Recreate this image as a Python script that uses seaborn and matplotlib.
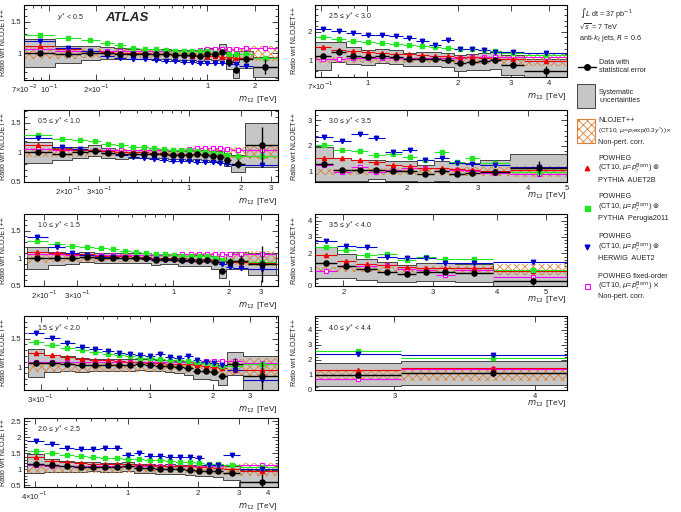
import numpy as np
import matplotlib
matplotlib.use("Agg")
from matplotlib import pyplot as plt
from matplotlib.ticker import AutoMinorLocator, LogLocator, NullFormatter
from matplotlib.patches import Rectangle
import seaborn as sns

# ---- values (ratio wrt NLOJET++), m12 bin edges in TeV ----
ystar_bins = ["$y^{*}$ < 0.5", "0.5 ≤ $y^{*}$ < 1.0", "1.0 ≤ $y^{*}$ < 1.5",
              "1.5 ≤ $y^{*}$ < 2.0", "2.0 ≤ $y^{*}$ < 2.5", "2.5 ≤ $y^{*}$ < 3.0",
              "3.0 ≤ $y^{*}$ < 3.5", "3.5 ≤ $y^{*}$ < 4.0", "4.0 ≤ $y^{*}$ < 4.4"]

# y* < 0.5
edges1 = [0.07, 0.11, 0.16, 0.21, 0.26, 0.31, 0.37, 0.44, 0.51, 0.59, 0.67, 0.76, 0.85, 0.95, 1.06, 1.18, 1.31, 1.45, 1.60, 1.94, 2.78]
data1 = [1.0, 0.98, 1.0, 1.0, 0.99, 0.98, 0.98, 0.98, 0.98, 0.97, 0.97, 0.97, 0.96, 0.99, 0.99, 1.02, 0.86, 0.73, 0.90, 0.78]
stat1 = [0.01, 0.01, 0.01, 0.01, 0.01, 0.01, 0.01, 0.01, 0.01, 0.01, 0.01, 0.01, 0.01, 0.02, 0.02, 0.03, 0.04, 0.05, 0.06, 0.12]
syst1 = [0.22, 0.14, 0.11, 0.10, 0.09, 0.08, 0.08, 0.08, 0.08, 0.08, 0.08, 0.08, 0.09, 0.09, 0.10, 0.12, 0.12, 0.13, 0.14, 0.16]
nlo1 = [0.10, 0.09, 0.08, 0.07, 0.07, 0.07, 0.07, 0.07, 0.07, 0.07, 0.07, 0.07, 0.07, 0.07, 0.08, 0.08, 0.09, 0.10, 0.10, 0.12]
red1 = [1.12, 1.07, 1.04, 1.02, 1.01, 1.00, 1.00, 0.99, 0.98, 0.97, 0.97, 0.96, 0.95, 0.95, 0.95, 0.94, 0.94, 0.93, 0.92, 0.92]
green1 = [1.29, 1.25, 1.21, 1.17, 1.13, 1.09, 1.07, 1.06, 1.05, 1.04, 1.04, 1.03, 1.03, 1.03, 1.00, 1.02, 0.98, 0.98, 0.99, 0.93]
blue1 = [1.20, 1.08, 1.03, 0.95, 0.93, 0.91, 0.90, 0.89, 0.88, 0.87, 0.86, 0.86, 0.85, 0.85, 0.85, 0.84, 0.83, 0.82, 0.80, 0.78]
mag1 = [1.06, 1.04, 1.03, 1.03, 1.03, 1.03, 1.03, 1.03, 1.03, 1.03, 1.04, 1.04, 1.05, 1.06, 1.06, 1.06, 1.07, 1.07, 1.08, 1.08]

# 0.5 <= y* < 1.0
edges2 = [0.11, 0.16, 0.21, 0.26, 0.31, 0.37, 0.44, 0.51, 0.59, 0.67, 0.76, 0.85, 0.95, 1.06, 1.18, 1.31, 1.45, 1.60, 1.76, 2.12, 3.31]
data2 = [1.0, 0.97, 1.0, 1.03, 0.99, 0.97, 0.98, 0.98, 0.97, 0.97, 0.96, 0.96, 0.95, 0.97, 0.96, 0.94, 0.93, 0.88, 0.81, 1.13]
stat2 = [0.02, 0.01, 0.01, 0.01, 0.01, 0.01, 0.01, 0.01, 0.01, 0.01, 0.01, 0.01, 0.01, 0.01, 0.02, 0.02, 0.02, 0.04, 0.08, 0.30]
syst2 = [0.17, 0.10, 0.09, 0.09, 0.08, 0.08, 0.07, 0.07, 0.07, 0.07, 0.07, 0.07, 0.08, 0.08, 0.08, 0.09, 0.10, 0.11, 0.14, 0.37]
nlo2 = [0.08, 0.07, 0.07, 0.06, 0.06, 0.06, 0.06, 0.06, 0.06, 0.06, 0.06, 0.07, 0.07, 0.07, 0.08, 0.08, 0.09, 0.09, 0.10, 0.11]
red2 = [1.12, 1.06, 1.05, 1.04, 1.02, 1.01, 1.00, 1.00, 0.99, 0.99, 0.98, 0.98, 0.98, 0.97, 0.97, 0.96, 0.96, 0.95, 0.94, 0.94]
green2 = [1.29, 1.23, 1.21, 1.19, 1.14, 1.12, 1.10, 1.09, 1.07, 1.06, 1.05, 1.05, 1.04, 1.02, 1.01, 0.99, 0.97, 0.96, 0.94, 0.94]
blue2 = [1.25, 1.10, 1.06, 1.03, 0.99, 0.95, 0.92, 0.91, 0.89, 0.87, 0.86, 0.85, 0.85, 0.84, 0.84, 0.84, 0.82, 0.81, 0.79, 0.79]
mag2 = [1.06, 1.05, 1.04, 1.04, 1.04, 1.04, 1.04, 1.04, 1.04, 1.05, 1.05, 1.05, 1.06, 1.07, 1.07, 1.07, 1.07, 1.06, 1.05, 1.05]

# 1.0 <= y* < 1.5
edges3 = [0.16, 0.21, 0.26, 0.31, 0.37, 0.44, 0.51, 0.59, 0.67, 0.76, 0.85, 0.95, 1.06, 1.18, 1.31, 1.45, 1.60, 1.76, 1.94, 2.12, 2.55, 3.61]
data3 = [1.0, 1.0, 1.0, 1.02, 1.0, 1.0, 1.01, 1.0, 1.0, 0.97, 0.98, 0.98, 0.97, 0.97, 0.96, 0.97, 0.93, 0.77, 0.94, 0.96, 0.90]
stat3 = [0.02, 0.01, 0.01, 0.01, 0.01, 0.01, 0.01, 0.01, 0.01, 0.01, 0.01, 0.01, 0.01, 0.01, 0.02, 0.02, 0.03, 0.05, 0.07, 0.10, 0.32]
syst3 = [0.20, 0.12, 0.10, 0.09, 0.09, 0.09, 0.09, 0.09, 0.09, 0.09, 0.09, 0.09, 0.10, 0.10, 0.10, 0.11, 0.12, 0.13, 0.14, 0.16, 0.20]
nlo3 = [0.08, 0.07, 0.07, 0.07, 0.07, 0.07, 0.07, 0.07, 0.07, 0.07, 0.07, 0.07, 0.08, 0.08, 0.09, 0.09, 0.10, 0.10, 0.11, 0.12, 0.13]
red3 = [1.12, 1.10, 1.08, 1.07, 1.05, 1.05, 1.04, 1.03, 1.02, 1.01, 1.00, 1.00, 1.00, 0.99, 0.98, 0.98, 0.97, 0.95, 0.94, 0.93, 0.92]
green3 = [1.31, 1.26, 1.23, 1.21, 1.18, 1.16, 1.14, 1.12, 1.10, 1.08, 1.07, 1.06, 1.05, 1.05, 1.04, 1.04, 1.00, 0.97, 0.95, 0.95, 0.93]
blue3 = [1.38, 1.20, 1.10, 1.06, 1.03, 1.02, 1.01, 1.00, 0.99, 0.98, 0.97, 0.97, 0.96, 0.96, 0.95, 0.95, 0.94, 0.90, 0.85, 0.82, 0.80]
mag3 = [1.08, 1.07, 1.06, 1.06, 1.06, 1.06, 1.06, 1.06, 1.06, 1.06, 1.06, 1.06, 1.07, 1.07, 1.08, 1.08, 1.08, 1.08, 1.08, 1.08, 1.08]

# 1.5 <= y* < 2.0
edges4 = [0.26, 0.31, 0.37, 0.44, 0.51, 0.59, 0.67, 0.76, 0.85, 0.95, 1.06, 1.18, 1.31, 1.45, 1.60, 1.76, 1.94, 2.12, 2.33, 2.78, 4.27]
data4 = [1.07, 1.07, 1.06, 1.04, 1.04, 1.04, 1.04, 1.04, 1.05, 1.04, 1.03, 1.02, 1.00, 0.98, 0.93, 0.93, 0.92, 0.85, 1.06, 0.85]
stat4 = [0.02, 0.01, 0.01, 0.01, 0.01, 0.01, 0.01, 0.01, 0.01, 0.01, 0.01, 0.01, 0.02, 0.02, 0.03, 0.03, 0.04, 0.05, 0.10, 0.25]
syst4 = [0.25, 0.15, 0.13, 0.12, 0.11, 0.11, 0.10, 0.10, 0.10, 0.10, 0.10, 0.11, 0.11, 0.12, 0.13, 0.14, 0.15, 0.17, 0.20, 0.35]
nlo4 = [0.09, 0.08, 0.08, 0.08, 0.08, 0.08, 0.08, 0.08, 0.08, 0.08, 0.08, 0.09, 0.09, 0.10, 0.10, 0.11, 0.12, 0.13, 0.14, 0.16]
red4 = [1.25, 1.21, 1.18, 1.15, 1.13, 1.12, 1.11, 1.10, 1.09, 1.08, 1.07, 1.06, 1.06, 1.05, 1.04, 1.02, 1.01, 0.98, 0.96, 0.95]
green4 = [1.44, 1.39, 1.34, 1.30, 1.26, 1.23, 1.21, 1.19, 1.17, 1.16, 1.14, 1.13, 1.12, 1.11, 1.09, 1.07, 1.06, 1.03, 1.03, 1.06]
blue4 = [1.61, 1.52, 1.43, 1.36, 1.32, 1.28, 1.25, 1.23, 1.22, 1.20, 1.23, 1.18, 1.16, 1.20, 1.12, 1.10, 1.07, 1.04, 0.96, 0.78]
mag4 = [1.10, 1.10, 1.09, 1.09, 1.09, 1.09, 1.09, 1.09, 1.09, 1.09, 1.09, 1.10, 1.10, 1.10, 1.10, 1.11, 1.11, 1.11, 1.11, 1.08]

# 2.0 <= y* < 2.5
edges5 = [0.37, 0.44, 0.51, 0.59, 0.67, 0.76, 0.85, 0.95, 1.06, 1.18, 1.31, 1.45, 1.60, 1.76, 1.94, 2.12, 2.33, 2.55, 3.04, 4.64]
data5 = [1.18, 1.13, 1.09, 1.08, 1.08, 1.06, 1.07, 1.09, 1.04, 1.03, 1.01, 1.01, 1.00, 0.98, 0.96, 0.96, 0.95, 0.88, 0.62]
stat5 = [0.03, 0.02, 0.02, 0.02, 0.02, 0.02, 0.02, 0.02, 0.02, 0.02, 0.02, 0.02, 0.03, 0.03, 0.03, 0.04, 0.05, 0.06, 0.22]
syst5 = [0.30, 0.20, 0.17, 0.15, 0.14, 0.14, 0.14, 0.14, 0.14, 0.14, 0.14, 0.15, 0.15, 0.16, 0.17, 0.18, 0.20, 0.22, 0.35]
nlo5 = [0.10, 0.10, 0.10, 0.10, 0.10, 0.10, 0.10, 0.10, 0.10, 0.10, 0.10, 0.11, 0.11, 0.12, 0.13, 0.14, 0.15, 0.17, 0.20]
red5 = [1.38, 1.27, 1.24, 1.21, 1.18, 1.18, 1.16, 1.18, 1.14, 1.14, 1.11, 1.11, 1.11, 1.09, 1.08, 1.06, 1.04, 1.01, 0.96]
green5 = [1.58, 1.51, 1.46, 1.41, 1.38, 1.36, 1.34, 1.33, 1.31, 1.29, 1.28, 1.26, 1.24, 1.23, 1.21, 1.18, 1.16, 1.13, 1.08]
blue5 = [1.88, 1.80, 1.68, 1.62, 1.63, 1.65, 1.66, 1.46, 1.50, 1.43, 1.42, 1.40, 1.38, 1.38, 1.35, 1.15, 1.12, 1.45, 1.02]
mag5 = [1.12, 1.10, 1.10, 1.10, 1.10, 1.10, 1.10, 1.10, 1.10, 1.10, 1.10, 1.10, 1.10, 1.10, 1.11, 1.11, 1.11, 1.12, 1.12]

# 2.5 <= y* < 3.0
edges6 = [0.67, 0.76, 0.85, 0.95, 1.06, 1.18, 1.31, 1.45, 1.60, 1.76, 1.94, 2.12, 2.33, 2.55, 2.78, 3.31, 4.64]
data6 = [1.15, 1.28, 1.16, 1.10, 1.13, 1.10, 1.02, 1.04, 1.05, 1.00, 0.90, 0.94, 0.95, 1.00, 0.83, 0.60]
stat6 = [0.04, 0.04, 0.04, 0.04, 0.04, 0.04, 0.04, 0.04, 0.05, 0.05, 0.06, 0.07, 0.08, 0.10, 0.12, 0.20]
syst6 = [0.50, 0.35, 0.30, 0.27, 0.25, 0.24, 0.24, 0.24, 0.25, 0.25, 0.27, 0.28, 0.30, 0.32, 0.35, 0.45]
nlo6 = [0.10, 0.10, 0.10, 0.10, 0.10, 0.10, 0.10, 0.11, 0.11, 0.12, 0.12, 0.13, 0.14, 0.15, 0.16, 0.20]
red6 = [1.47, 1.36, 1.31, 1.28, 1.25, 1.23, 1.20, 1.19, 1.16, 1.14, 1.12, 1.11, 1.08, 1.05, 1.03, 0.96]
green6 = [1.82, 1.73, 1.67, 1.64, 1.60, 1.56, 1.53, 1.50, 1.47, 1.44, 1.40, 1.38, 1.35, 1.32, 1.25, 1.18]
blue6 = [2.10, 2.03, 1.96, 1.90, 1.88, 1.84, 1.77, 1.67, 1.55, 1.72, 1.40, 1.40, 1.37, 1.30, 1.28, 1.25]
mag6 = [1.05, 1.05, 1.06, 1.06, 1.07, 1.07, 1.07, 1.08, 1.08, 1.08, 1.09, 1.10, 1.10, 1.10, 1.10, 1.12]

# 3.0 <= y* < 3.5
edges7 = [1.18, 1.31, 1.45, 1.60, 1.76, 1.94, 2.12, 2.33, 2.55, 2.78, 3.04, 3.61, 5.04]
data7 = [1.30, 1.08, 1.05, 1.08, 1.03, 1.03, 0.90, 1.02, 0.92, 0.95, 1.00, 1.13]
stat7 = [0.10, 0.08, 0.07, 0.07, 0.07, 0.08, 0.08, 0.09, 0.10, 0.10, 0.12, 0.30]
syst7 = [0.65, 0.45, 0.40, 0.38, 0.38, 0.38, 0.38, 0.38, 0.40, 0.40, 0.45, 0.55]
nlo7 = [0.12, 0.12, 0.12, 0.13, 0.13, 0.14, 0.14, 0.15, 0.16, 0.17, 0.18, 0.22]
red7 = [1.55, 1.52, 1.45, 1.38, 1.27, 1.24, 1.14, 1.16, 1.11, 1.08, 1.03, 1.06]
green7 = [2.03, 1.86, 1.79, 1.65, 1.67, 1.58, 1.45, 1.77, 1.39, 1.52, 1.32, 0.97]
blue7 = [2.35, 2.18, 2.46, 2.30, 1.75, 1.85, 1.45, 1.55, 1.35, 1.30, 1.25, 1.17]
mag7 = [1.27, 0.98, 1.20, 1.00, 1.05, 1.13, 1.15, 1.03, 1.05, 1.03, 0.96, 0.90]

# 3.5 <= y* < 4.0
edges8 = [1.76, 1.94, 2.12, 2.33, 2.55, 2.78, 3.04, 3.31, 3.93, 5.67]
data8 = [1.42, 1.23, 1.02, 0.86, 0.76, 0.85, 0.88, 0.78, 0.30]
stat8 = [0.12, 0.10, 0.10, 0.10, 0.10, 0.12, 0.12, 0.15, 0.25]
syst8 = [0.95, 0.75, 0.65, 0.60, 0.50, 0.55, 0.55, 0.55, 0.70]
nlo8 = [0.15, 0.15, 0.16, 0.17, 0.18, 0.20, 0.22, 0.25, 0.35]
red8 = [1.90, 1.55, 1.33, 1.27, 1.14, 1.13, 1.10, 1.10, 0.90]
green8 = [2.40, 2.22, 1.90, 1.98, 1.60, 1.80, 1.65, 1.68, 0.97]
blue8 = [2.77, 2.42, 2.38, 1.75, 1.74, 1.72, 1.42, 1.38, 1.45]
mag8 = [0.93, 1.22, 1.25, 1.28, 1.03, 0.98, 0.65, 0.96, 0.55]

# 4.0 <= y* < 4.4
edges9 = [2.55, 3.04, 4.43]
data9 = [1.02, 1.15]
stat9 = [0.20, 0.25]
syst9 = [0.75, 0.80]
nlo9 = [0.27, 0.40]
red9 = [1.30, 1.45]
green9 = [2.60, 2.15]
blue9 = [2.40, 2.35]
mag9 = [0.75, 1.40]

# tick labels
xticks1, xlabels1 = [0.07, 0.1, 0.2, 1, 2], ["7×10$^{-2}$", "10$^{-1}$", "2×10$^{-1}$", "1", "2"]
xticks2, xlabels2 = [0.2, 0.3, 1, 2, 3], ["2×10$^{-1}$", "3×10$^{-1}$", "1", "2", "3"]
xticks3, xlabels3 = [0.2, 0.3, 1, 2, 3], ["2×10$^{-1}$", "3×10$^{-1}$", "1", "2", "3"]
xticks4, xlabels4 = [0.3, 1, 2, 3], ["3×10$^{-1}$", "1", "2", "3"]
xticks5, xlabels5 = [0.4, 1, 2, 3, 4], ["4×10$^{-1}$", "1", "2", "3", "4"]
xticks6, xlabels6 = [0.7, 1, 2, 3, 4], ["7×10$^{-1}$", "1", "2", "3", "4"]
xticks7, xlabels7 = [2, 3, 4, 5], ["2", "3", "4", "5"]
xticks8, xlabels8 = [2, 3, 4, 5], ["2", "3", "4", "5"]
xticks9, xlabels9 = [3, 4], ["3", "4"]
yticks1 = [1, 1.5]
yticks2 = [0.5, 1, 1.5]
yticks3 = [0.5, 1, 1.5]
yticks4 = [1, 1.5]
yticks5 = [0.5, 1, 1.5, 2, 2.5]
yticks6 = [1, 2]
yticks7 = [1, 2, 3]
yticks8 = [0, 1, 2, 3, 4]
yticks9 = [0, 1, 2, 3, 4]

# ---- style ----
sns.set_style("ticks")
plt.rcParams["font.family"] = ["Liberation Sans", "DejaVu Sans"]
plt.rcParams["hatch.linewidth"] = 0.6
plt.rcParams["xtick.direction"] = "in"
plt.rcParams["ytick.direction"] = "in"

RED, GREEN, BLUE, MAG = "#ee0000", "#22e622", "#0000cc", "#ff00ff"
GREY, ORANGE = "#c6c6c6", "#d9843a"
W, H = 681, 512

panels = [
    dict(e=edges1, d=data1, s=stat1, sy=syst1, n=nlo1, r=red1, g=green1, b=blue1, m=mag1,
         xlim=(0.07, 2.8), ylim=(0.57, 1.77), xt=xticks1, xl=xlabels1, yt=yticks1, box=(24, 5, 278, 80)),
    dict(e=edges2, d=data2, s=stat2, sy=syst2, n=nlo2, r=red2, g=green2, b=blue2, m=mag2,
         xlim=(0.11, 3.3), ylim=(0.5, 1.72), xt=xticks2, xl=xlabels2, yt=yticks2, box=(24, 110, 278, 182)),
    dict(e=edges3, d=data3, s=stat3, sy=syst3, n=nlo3, r=red3, g=green3, b=blue3, m=mag3,
         xlim=(0.155, 3.7), ylim=(0.5, 1.8), xt=xticks3, xl=xlabels3, yt=yticks3, box=(24, 214, 278, 286)),
    dict(e=edges4, d=data4, s=stat4, sy=syst4, n=nlo4, r=red4, g=green4, b=blue4, m=mag4,
         xlim=(0.25, 4.1), ylim=(0.6, 1.9), xt=xticks4, xl=xlabels4, yt=yticks4, box=(24, 316, 278, 390)),
    dict(e=edges5, d=data5, s=stat5, sy=syst5, n=nlo5, r=red5, g=green5, b=blue5, m=mag5,
         xlim=(0.36, 4.4), ylim=(0.45, 2.6), xt=xticks5, xl=xlabels5, yt=yticks5, box=(24, 418, 278, 487)),
    dict(e=edges6, d=data6, s=stat6, sy=syst6, n=nlo6, r=red6, g=green6, b=blue6, m=mag6,
         xlim=(0.67, 4.6), ylim=(0.4, 2.95), xt=xticks6, xl=xlabels6, yt=yticks6, box=(315, 5, 567, 77)),
    dict(e=edges7, d=data7, s=stat7, sy=syst7, n=nlo7, r=red7, g=green7, b=blue7, m=mag7,
         xlim=(1.18, 5.0), ylim=(0.6, 3.4), xt=xticks7, xl=xlabels7, yt=yticks7, box=(315, 110, 567, 182)),
    dict(e=edges8, d=data8, s=stat8, sy=syst8, n=nlo8, r=red8, g=green8, b=blue8, m=mag8,
         xlim=(1.76, 5.5), ylim=(0, 4.4), xt=xticks8, xl=xlabels8, yt=yticks8, box=(315, 214, 567, 286)),
    dict(e=edges9, d=data9, s=stat9, sy=syst9, n=nlo9, r=red9, g=green9, b=blue9, m=mag9,
         xlim=(2.55, 4.27), ylim=(0, 4.9), xt=xticks9, xl=xlabels9, yt=yticks9, box=(315, 316, 567, 390)),
]

fig = plt.figure(figsize=(W / 100, H / 100), dpi=100)

for i, p in enumerate(panels):
    x0, y0, x1, y1 = p["box"]
    ax = fig.add_axes([x0 / W, 1 - y1 / H, (x1 - x0) / W, (y1 - y0) / H])
    ax.set_xscale("log")

    e = np.array(p["e"])
    lo, hi = e[:-1], e[1:]
    c = np.sqrt(lo * hi)
    d = np.array(p["d"])
    sy = np.array(p["sy"])
    n = np.array(p["n"])
    xerr = [c - lo, hi - c]

    # systematic band around data, NLOJET++ band around 1
    ax.stairs(d + sy, e, baseline=d - sy, fill=True, facecolor=GREY,
              edgecolor="#2a2a2a", linewidth=0.6, zorder=1)
    ax.stairs(1 + n, e, baseline=1 - n, fill=True, facecolor="none",
              edgecolor=ORANGE, hatch="xxxx", linewidth=0, zorder=2)

    # POWHEG predictions
    ax.errorbar(c, p["m"], xerr=xerr, fmt="s", color=MAG, mfc="white", mec=MAG,
                ms=3.2, mew=0.8, lw=0.8, capsize=0, zorder=3)
    ax.errorbar(c, p["r"], xerr=xerr, fmt="^", color=RED, ms=3.0, lw=0.8, capsize=0, zorder=3)
    ax.errorbar(c, p["g"], xerr=xerr, fmt="s", color=GREEN, ms=3.4, lw=0.8, capsize=0, zorder=3)
    ax.errorbar(c, p["b"], xerr=xerr, fmt="v", color=BLUE, ms=3.2, lw=0.8, capsize=0, zorder=3)

    # data
    ax.errorbar(c, d, xerr=xerr, yerr=p["s"], fmt="none", ecolor="black", lw=1.0,
                capsize=0, zorder=5)
    sns.scatterplot(x=c, y=d, ax=ax, color="black", s=22, linewidth=0, zorder=6, legend=False)

    ax.set_xlim(*p["xlim"])
    ax.set_ylim(*p["ylim"])
    ax.set_xticks(p["xt"], p["xl"])
    ax.xaxis.set_minor_locator(LogLocator(base=10, subs=np.arange(2, 10)))
    ax.xaxis.set_minor_formatter(NullFormatter())
    ax.set_yticks(p["yt"], [f"{v:g}" for v in p["yt"]])
    ax.yaxis.set_minor_locator(AutoMinorLocator(5))
    ax.tick_params(which="both", top=True, right=True, labelsize=5.5, pad=2, width=0.6)
    ax.tick_params(which="major", length=4)
    ax.tick_params(which="minor", length=2)
    for sp in ax.spines.values():
        sp.set_linewidth(0.8)
        sp.set_color("black")

    ax.set_xlabel("$m_{12}$ [TeV]", loc="right", fontsize=6, labelpad=-1)
    ax.set_ylabel("Ratio wrt NLOJET++", fontsize=5.2)
    ax.yaxis.set_label_coords(-0.066, 0.5)
    ax.text(0.13 if i == 0 else 0.05, 0.83, ystar_bins[i], transform=ax.transAxes,
            fontsize=5, va="center", ha="left")
    if i == 0:
        ax.text(0.32, 0.83, "ATLAS", transform=ax.transAxes, fontsize=9.5,
                fontweight="bold", fontstyle="italic", va="center", ha="left")

# ---- legend column, drawn in pixel coordinates ----
leg = fig.add_axes([0, 0, 1, 1])
leg.set_xlim(0, W)
leg.set_ylim(H, 0)
leg.set_axis_off()
fs = 5.2
leg.text(580, 13, r"$\int$$L$ dt = 37 pb$^{-1}$", fontsize=fs, va="center")
leg.text(579, 26, r"$\sqrt{s}$ = 7 TeV", fontsize=fs, va="center")
leg.text(579, 39, r"anti-$k_{t}$ jets, $R$ = 0.6", fontsize=fs, va="center")

leg.plot([578, 596], [67, 67], color="black", lw=1.0)
leg.plot([587], [67], "o", color="black", ms=4.0)
leg.text(599, 63, "Data with", fontsize=fs, va="center")
leg.text(599, 71, "statistical error", fontsize=fs, va="center")

leg.add_patch(Rectangle((577, 84), 18, 24, facecolor=GREY, edgecolor="#2a2a2a", lw=0.6))
leg.text(599, 92, "Systematic", fontsize=fs, va="center")
leg.text(599, 101, "uncertainties", fontsize=fs, va="center")

leg.add_patch(Rectangle((577, 119), 18, 24, facecolor="none", edgecolor=ORANGE, hatch="xxxx", lw=0.8))
leg.text(598, 121, "NLOJET++", fontsize=fs, va="center")
leg.text(598, 131, r"(CT10, $\mu$=$p_{_{T}}$exp(0.3$y^{*}$))$\times$", fontsize=4.6, va="center")
leg.text(598, 142, "Non-pert. corr.", fontsize=fs, va="center")

born = r"(CT10, $\mu$=$p_{_{T}}^{\rm Born}$)"
leg.plot([587], [168], "^", color=RED, ms=3.2)
leg.text(598, 158, "POWHEG", fontsize=fs, va="center")
leg.text(598, 169, born + r" $\otimes$", fontsize=fs, va="center")
leg.text(598, 180, "PYTHIA  AUET2B", fontsize=fs, va="center")

leg.plot([587], [208], "s", color=GREEN, ms=3.6)
leg.text(598, 197, "POWHEG", fontsize=fs, va="center")
leg.text(598, 208, born + r" $\otimes$", fontsize=fs, va="center")
leg.text(598, 219, "PYTHIA  Perugia2011", fontsize=fs, va="center")

leg.plot([587], [247], "v", color=BLUE, ms=3.4)
leg.text(598, 237, "POWHEG", fontsize=fs, va="center")
leg.text(598, 248, born + r" $\otimes$", fontsize=fs, va="center")
leg.text(598, 259, "HERWIG  AUET2", fontsize=fs, va="center")

leg.plot([587], [286], "s", color=MAG, mfc="white", mew=0.8, ms=3.6)
leg.text(598, 276, "POWHEG fixed-order", fontsize=fs, va="center")
leg.text(598, 287, born + r" $\times$", fontsize=fs, va="center")
leg.text(598, 297, "Non-pert. corr.", fontsize=fs, va="center")

fig.savefig("out.png", dpi=100)
